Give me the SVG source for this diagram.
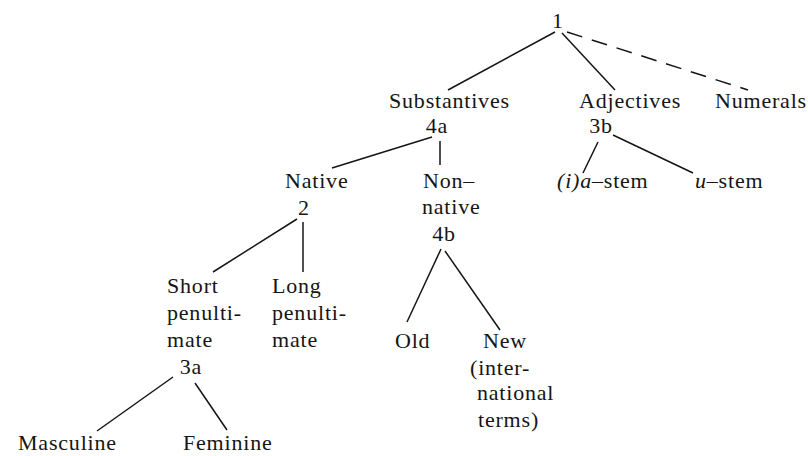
<svg xmlns="http://www.w3.org/2000/svg" width="808" height="456" viewBox="0 0 808 456">
<style>
text{font-family:"Liberation Serif","Times New Roman",serif;font-size:22px;letter-spacing:0.8px;fill:#151515}
.it{font-style:italic}
line{stroke:#151515;stroke-width:1.5;fill:none}
.dash{stroke-dasharray:16 10}
</style>
<rect width="808" height="456" fill="#fff"/>
<g id="connectors">
<line x1="555" y1="32" x2="448" y2="90"/>
<line x1="562" y1="33" x2="615" y2="90"/>
<line class="dash" x1="567" y1="32" x2="748" y2="90"/>
<line x1="432" y1="137" x2="332" y2="168"/>
<line x1="440" y1="141" x2="440" y2="165"/>
<line x1="598" y1="142" x2="583" y2="173"/>
<line x1="613" y1="135" x2="693" y2="173"/>
<line x1="297" y1="219" x2="213" y2="272"/>
<line x1="303" y1="222" x2="303" y2="272"/>
<line x1="441" y1="249" x2="407" y2="322"/>
<line x1="445" y1="251" x2="500" y2="330"/>
<line x1="173" y1="377" x2="97" y2="431"/>
<line x1="195" y1="383" x2="227" y2="430"/>
</g>
<g id="n1"><text x="558" y="28" text-anchor="middle">1</text></g>
<g id="substantives"><text x="389" y="108">Substantives</text><text x="437" y="133" text-anchor="middle">4a</text></g>
<g id="adjectives"><text x="579" y="108">Adjectives</text><text x="601" y="133" text-anchor="middle">3b</text></g>
<g id="numerals"><text x="715" y="108">Numerals</text></g>
<g id="native"><text x="285" y="188">Native</text><text x="304" y="215" text-anchor="middle">2</text></g>
<g id="nonnative"><text x="423" y="188">Non–</text><text x="422" y="214">native</text><text x="444" y="241" text-anchor="middle">4b</text></g>
<g id="iastem"><text x="557" y="188"><tspan class="it">(i)a</tspan>–stem</text></g>
<g id="ustem"><text x="695" y="188"><tspan class="it">u</tspan>–stem</text></g>
<g id="short"><text x="167" y="293">Short</text><text x="167" y="320">penulti-</text><text x="167" y="347">mate</text><text x="191" y="374" text-anchor="middle">3a</text></g>
<g id="long"><text x="272" y="293">Long</text><text x="272" y="320">penulti-</text><text x="272" y="347">mate</text></g>
<g id="old"><text x="395" y="348">Old</text></g>
<g id="new"><text x="483" y="348">New</text><text x="470" y="375">(inter-</text><text x="477" y="400">national</text><text x="478" y="427">terms)</text></g>
<g id="masculine"><text x="18" y="450">Masculine</text></g>
<g id="feminine"><text x="183" y="450">Feminine</text></g>
</svg>
